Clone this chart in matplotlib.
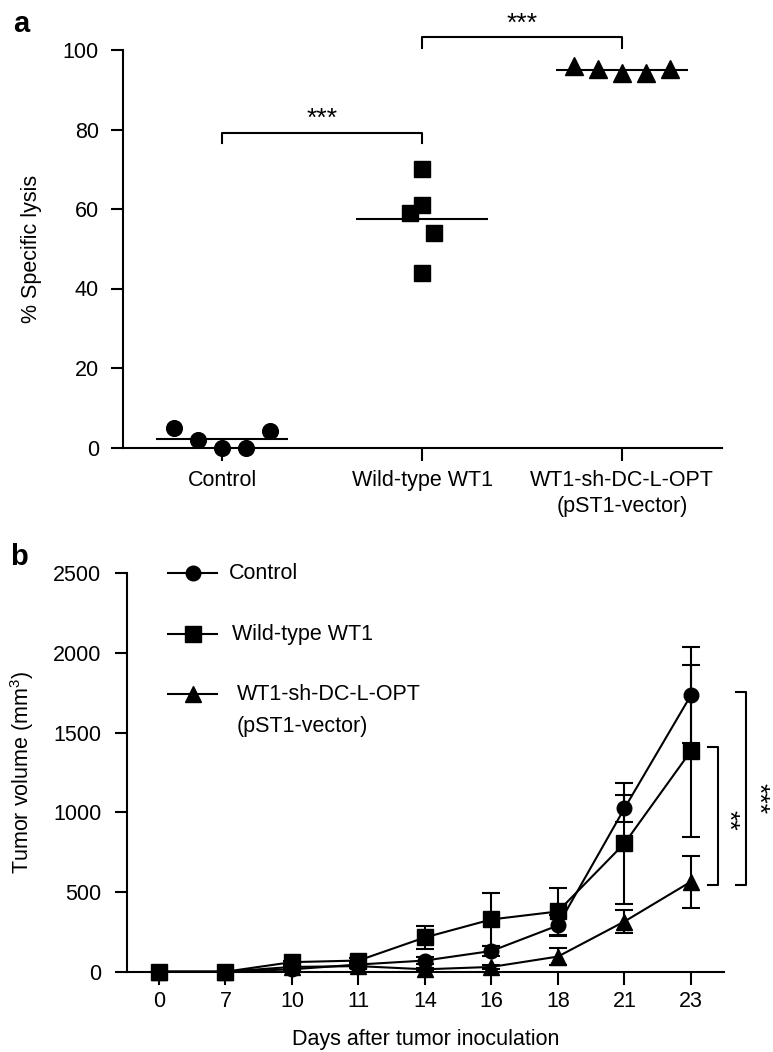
import matplotlib
matplotlib.use("Agg")
import matplotlib.pyplot as plt
import numpy as np

plt.rcParams["font.family"] = ["Liberation Sans", "DejaVu Sans"]
plt.rcParams["mathtext.default"] = "regular"
plt.rcParams["font.size"] = 15.5

W, H = 773, 1052

# ---- panel a data: % specific lysis ----
groups = ["Control", "Wild-type WT1", "WT1-sh-DC-L-OPT\n(pST1-vector)"]
lysis_control = [5.0, 2.0, 0.0, 0.0, 4.1]
lysis_wt = [70.0, 61.0, 59.0, 54.0, 44.0]
lysis_opt = [96.0, 95.1, 94.1, 94.1, 95.1]
jitter_control = [-0.24, -0.12, 0.0, 0.12, 0.24]
jitter_wt = [0.0, 0.0, -0.06, 0.06, 0.0]
jitter_opt = [-0.24, -0.12, 0.0, 0.12, 0.24]

# ---- panel b data: tumor volume ----
days = ["0", "7", "10", "11", "14", "16", "18", "21", "23"]
vol_control = [0, 0, 15, 45, 70, 130, 290, 1025, 1735]
sd_control = [0, 0, 10, 15, 20, 30, 65, 85, 300]
vol_wt = [0, 0, 60, 70, 215, 328, 378, 805, 1385]
sd_wt = [0, 0, 10, 15, 72, 164, 150, 380, 542]
vol_opt = [0, 0, 30, 35, 15, 30, 95, 315, 565]
sd_opt = [0, 0, 5, 10, 10, 10, 55, 70, 163]

LW = 1.5


def style_axes(ax, ypad):
    for s in ("top", "right"):
        ax.spines[s].set_visible(False)
    for s in ("left", "bottom"):
        ax.spines[s].set_linewidth(LW)
    ax.tick_params(axis="both", width=LW, length=9, direction="out")
    ax.tick_params(axis="y", pad=ypad)


fig = plt.figure(figsize=(W / 100, H / 100), dpi=100)

# ================= panel a =================
axa = fig.add_axes([122.5 / W, 1 - 447.5 / H, (722 - 122.5) / W, (447.5 - 50) / H])
style_axes(axa, 8)
axa.set_xlim(-0.5, 2.5)
axa.set_ylim(0, 100)
axa.set_yticks([0, 20, 40, 60, 80, 100])
axa.set_xticks(range(len(groups)))
axa.set_xticklabels(groups)
axa.tick_params(axis="x", pad=7)
for lbl in axa.get_xticklabels():
    lbl.set_linespacing(1.3)

sets = [
    (lysis_control, jitter_control, "o", 11.3),
    (lysis_wt, jitter_wt, "s", 11.3),
    (lysis_opt, jitter_opt, "^", 13),
]
for i, (vals, jit, mk, ms) in enumerate(sets):
    xs = np.array(jit) + i
    axa.plot(xs, vals, linestyle="none", marker=mk, ms=ms, color="black", clip_on=False, zorder=4)
    m = np.mean(vals)
    axa.hlines(m, i - 0.33, i + 0.33, color="black", lw=LW, zorder=5, clip_on=False)

# significance brackets
axa.plot([0, 0, 1, 1], [76.5, 79, 79, 76.5], color="black", lw=LW, clip_on=False)
axa.text(0.5, 82.8, "***", ha="center", va="center", fontsize=19)
axa.plot([1, 1, 2, 2], [100.6, 103.2, 103.2, 100.6], color="black", lw=LW, clip_on=False)
axa.text(1.5, 106.6, "***", ha="center", va="center", fontsize=19)

fig.text(32 / W, 1 - 248.7 / H, "% Specific lysis", rotation=90, ha="center", va="center")
fig.text(13 / W, 1 - 32 / H, "a", fontsize=21, fontweight="bold", va="baseline")

# ================= panel b =================
axb = fig.add_axes([127 / W, 1 - 971.7 / H, (724.2 - 127) / W, (971.7 - 573.3) / H])
style_axes(axb, 9.5)
axb.set_xlim(-0.48, 8.5)
axb.set_ylim(0, 2500)
axb.set_yticks([0, 500, 1000, 1500, 2000, 2500])
axb.set_xticks(range(len(days)))
axb.set_xticklabels(days)
axb.tick_params(axis="x", pad=5)

x = np.arange(len(days))
series = [
    (vol_opt, sd_opt, "^", 11.5),
    (vol_control, sd_control, "o", 10.5),
    (vol_wt, sd_wt, "s", 11),
]
for vals, sd, mk, ms in series:
    vals = np.array(vals, dtype=float)
    sd = np.array(sd, dtype=float)
    keep = sd > 0
    axb.errorbar(x[keep], vals[keep], yerr=sd[keep], fmt="none", ecolor="black",
                 elinewidth=LW, capsize=6.4, capthick=LW, clip_on=False, zorder=3)
    axb.plot(x, vals, color="black", lw=LW, marker=mk, ms=ms, clip_on=False, zorder=4)

# legend drawn by hand to match layout
legend_rows = [
    ("o", 10.5, 1.0, 0.171, "Control"),
    ("s", 11, 0.8476, 0.175, "Wild-type WT1"),
    ("^", 11.5, 0.6963, 0.184, "WT1-sh-DC-L-OPT"),
]
for mk, ms, yy, tx, lab in legend_rows:
    axb.plot([0.069, 0.150], [yy, yy], color="black", lw=LW, transform=axb.transAxes, clip_on=False)
    axb.plot([0.110], [yy], marker=mk, ms=ms, color="black", transform=axb.transAxes, clip_on=False)
    axb.text(tx, yy, lab, transform=axb.transAxes, ha="left", va="center")
axb.text(0.184, 0.615, "(pST1-vector)", transform=axb.transAxes, ha="left", va="center")

# significance brackets on the right
axb.plot([8.25, 8.41, 8.41, 8.25], [1412, 1412, 544, 544], color="black", lw=LW, clip_on=False)
axb.text(8.55, 947, "**", rotation=270, ha="center", va="center", fontsize=19)
axb.plot([8.68, 8.83, 8.83, 8.68], [1757, 1757, 544, 544], color="black", lw=LW, clip_on=False)
axb.text(9.0, 1088, "***", rotation=270, ha="center", va="center", fontsize=19)

fig.text(22.2 / W, 1 - 772.5 / H, "Tumor volume (mm$^3$)", rotation=90, ha="center", va="center")
fig.text(425.6 / W, 1 - 1039.3 / H, "Days after tumor inoculation", ha="center", va="center")
fig.text(10 / W, 1 - 565 / H, "b", fontsize=21, fontweight="bold", va="baseline")

fig.savefig("out.png", dpi=100)
plt.close(fig)
